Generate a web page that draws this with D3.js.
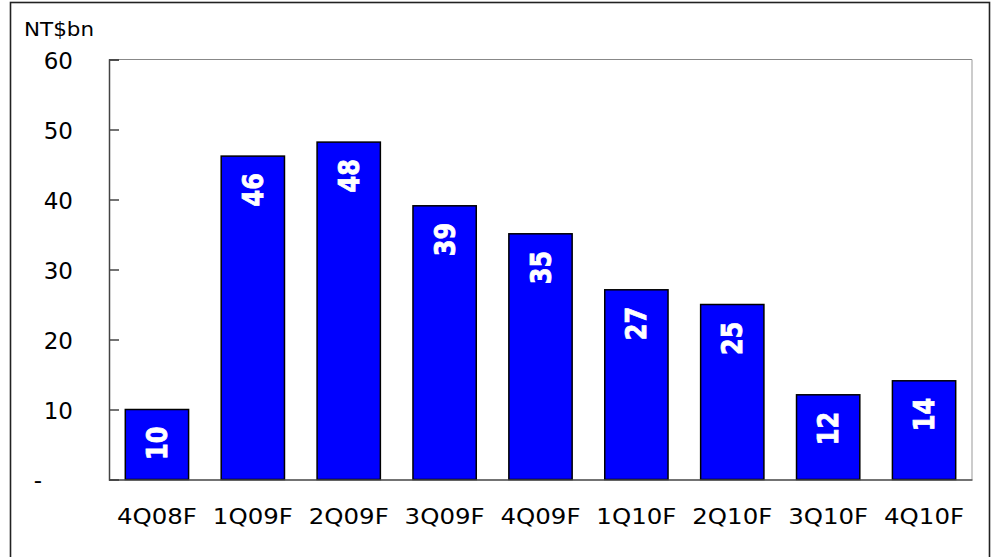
<!DOCTYPE html>
<html><head><meta charset="utf-8">
<script src="https://cdn.jsdelivr.net/npm/d3@7"></script>
<style>
html,body{margin:0;padding:0;background:#fff;}
svg{display:block;font-family:"DejaVu Sans",Verdana,sans-serif;}
</style></head>
<body>
<svg id="chart" width="991" height="557"></svg>
<script>
const categories = ["4Q08F","1Q09F","2Q09F","3Q09F","4Q09F","1Q10F","2Q10F","3Q10F","4Q10F"];
const values = [10.0, 46.2, 48.2, 39.1, 35.1, 27.1, 25.0, 12.1, 14.1];
const yTicks = [0,10,20,30,40,50,60];
const unitLabel = "NT$bn";

const svg = d3.select("#chart");
const W = 991, H = 557;
const plot = {left:109, right:972, top:59.5, bottom:479.5};

// outer border
svg.append("rect").attr("x",10.5).attr("y",2.5).attr("width",979).attr("height",H+10)
  .attr("fill","none").attr("stroke","#222").attr("stroke-width",1.6);

const x = d3.scaleBand().domain(categories).range([plot.left, plot.right]).paddingInner(0.34).paddingOuter(0.17);
const y = d3.scaleLinear().domain([0,60]).range([plot.bottom, plot.top]);

// plot frame top and right
svg.append("line").attr("x1",plot.left).attr("x2",plot.right).attr("y1",plot.top).attr("y2",plot.top)
  .attr("stroke","#888").attr("stroke-width",1);
svg.append("line").attr("x1",plot.right).attr("x2",plot.right).attr("y1",plot.top).attr("y2",plot.bottom)
  .attr("stroke","#aaa").attr("stroke-width",1.2);

// bars
svg.append("g").selectAll("rect").data(values).join("rect")
  .attr("x",(d,i)=>x(categories[i]))
  .attr("width",x.bandwidth())
  .attr("y",d=>y(d))
  .attr("height",d=>y(0)-y(d))
  .attr("fill","#0000ff").attr("stroke","#000").attr("stroke-width",1.5);

// bar labels
svg.append("g").selectAll("text").data(values).join("text")
  .attr("transform",(d,i)=>`translate(${x(categories[i])+x.bandwidth()/2+10},${y(d)+17}) rotate(-90) scale(1,1.2)`)
  .attr("text-anchor","end")
  .attr("fill","#fff").attr("stroke","#fff").attr("stroke-width",0.7)
  .attr("font-weight","bold").attr("font-size",24)
  .text(d=>Math.round(d));

// y axis
const yAxis = d3.axisLeft(y).tickValues(yTicks).tickSize(-10).tickFormat("");
const gy = svg.append("g").attr("transform",`translate(${plot.left},0)`).call(yAxis);
gy.select(".domain").attr("stroke","#444").attr("stroke-width",1.5);
gy.selectAll(".tick line").attr("stroke","#444").attr("stroke-width",1.5);

svg.append("g").selectAll("text").data(yTicks).join("text")
  .attr("x",d=>d===0?38:73)
  .attr("y",d=>d===0?y(d)+8:y(d)+9.5)
  .attr("text-anchor",d=>d===0?"middle":"end")
  .attr("font-size",23).attr("fill","#000")
  .text(d=>d===0?"-":d);

// x axis
const xAxis = d3.axisBottom(x).tickSize(0).tickFormat("");
const gx = svg.append("g").attr("transform",`translate(0,${plot.bottom})`).call(xAxis);
gx.select(".domain").attr("stroke","#444").attr("stroke-width",1.5);

svg.append("g").selectAll("text").data(categories).join("text")
  .attr("x",d=>x(d)+x.bandwidth()/2)
  .attr("y",524)
  .attr("text-anchor","middle")
  .attr("font-size",21).attr("fill","#000")
  .attr("textLength",80).attr("lengthAdjust","spacingAndGlyphs")
  .text(d=>d);

svg.append("text").attr("x",24).attr("y",36).attr("font-size",19).attr("fill","#000")
  .attr("textLength",70).attr("lengthAdjust","spacingAndGlyphs")
  .text(unitLabel);
</script>
</body></html>
